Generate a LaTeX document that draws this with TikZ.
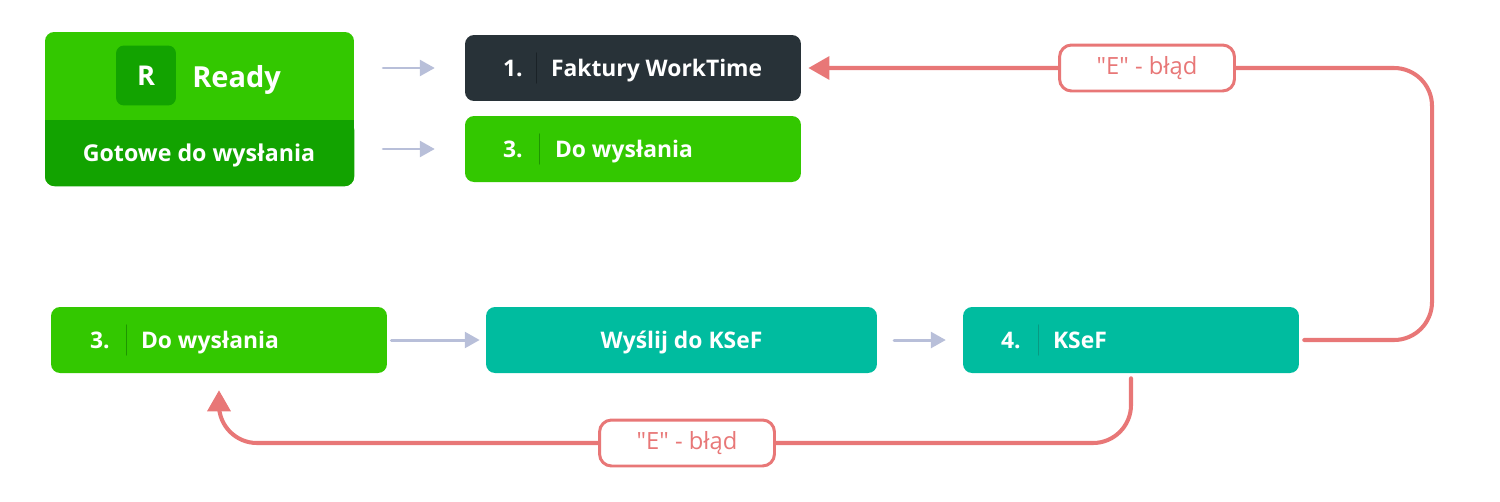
\documentclass[tikz,border=0pt]{standalone}
\usepackage{fontspec}
\newfontfamily\opensans{Open Sans}
\usetikzlibrary{arrows.meta}
\definecolor{lime}{HTML}{33C800}
\definecolor{darkgreen}{HTML}{12A300}
\definecolor{limesep}{HTML}{1E9600}
\definecolor{slate}{HTML}{283238}
\definecolor{slatesep}{HTML}{1A2227}
\definecolor{teal}{HTML}{00BC9F}
\definecolor{tealsep}{HTML}{089A82}
\definecolor{flowgray}{HTML}{B8BFD9}
\definecolor{errred}{HTML}{E87777}
\begin{document}
\begin{tikzpicture}[x=0.02cm, y=-0.02cm, line join=round, line cap=round,
		box/.style={rounded corners=0.18cm, minimum width=6.72cm, minimum height=1.32cm, inner sep=0},
		lbl/.style={text=white, font=\opensans\fontsize{13}{15}\selectfont\bfseries, inner sep=0, anchor=base west},
		sep/.style={line width=0.8pt},
		flow/.style={-{Triangle[length=8.5pt,width=9pt]}, line width=1.7pt, draw=flowgray},
		err/.style={-{Triangle[length=12pt,width=13pt]}, line width=2.3pt, draw=errred, rounded corners=0.76cm},
		errlabel/.style={draw=errred, line width=1.7pt, fill=white, rounded corners=0.24cm, minimum width=3.5cm, minimum height=0.92cm, text=errred, font=\opensans\fontsize{13.5}{15}\selectfont}
		]
		\useasboundingbox (0,0) rectangle (1500,501);
		% Ready block
		\node[box, fill=lime, minimum width=6.18cm, minimum height=3.08cm] (ready) at (199.5,109) {};
		\fill[darkgreen, rounded corners=0.2cm] (45,120) rectangle (ready.south east);
		\fill[darkgreen] (45,120) rectangle (354,140);
		\node[fill=darkgreen, rounded corners=0.16cm, minimum size=1.2cm, inner sep=0, text=white, font=\opensans\fontsize{15.5}{18}\selectfont\bfseries] (icon) at (146,75.5) {R};
		\node[text=white, inner sep=0, anchor=base west, font=\opensans\fontsize{16.5}{20}\selectfont\bfseries] (readytxt) at (192,87) {Ready};
		\node[text=white, inner sep=0, anchor=base, font=\opensans\fontsize{13.2}{15}\selectfont\bfseries] (gotowe) at (199,161.5) {Gotowe do wysłania};
		% top boxes
		\node[box, fill=slate] (fak) at (633,68) {};
		\node[lbl] (fak-n) at ([xshift=0.76cm,yshift=-0.17cm]fak.west) {1.};
		\draw[sep, slatesep] ([xshift=1.44cm,yshift=0.3cm]fak.west) -- ([xshift=1.44cm,yshift=-0.3cm]fak.west);
		\node[lbl] (fak-t) at ([xshift=1.72cm,yshift=-0.17cm]fak.west) {Faktury WorkTime};
		\node[box, fill=lime] (do) at (633,149) {};
		\node[lbl] (do-n) at ([xshift=0.76cm,yshift=-0.17cm]do.west) {3.};
		\draw[sep, limesep] ([xshift=1.5cm,yshift=0.3cm]do.west) -- ([xshift=1.5cm,yshift=-0.3cm]do.west);
		\node[lbl] (do-t) at ([xshift=1.8cm,yshift=-0.17cm]do.west) {Do wysłania};
		% bottom row
		\node[box, fill=lime] (do2) at (219,340) {};
		\node[lbl] (do2-n) at ([xshift=0.78cm,yshift=-0.17cm]do2.west) {3.};
		\draw[sep, limesep] ([xshift=1.52cm,yshift=0.3cm]do2.west) -- ([xshift=1.52cm,yshift=-0.3cm]do2.west);
		\node[lbl] (do2-t) at ([xshift=1.8cm,yshift=-0.17cm]do2.west) {Do wysłania};
		\node[box, fill=teal, minimum width=7.82cm] (send) at (681.5,340) {};
		\node[lbl, anchor=base] (send-t) at ([yshift=-0.17cm]send.center) {Wyślij do KSeF};
		\node[box, fill=teal] (ksef) at (1131,340) {};
		\node[lbl] (ksef-n) at ([xshift=0.76cm,yshift=-0.17cm]ksef.west) {4.};
		\draw[sep, tealsep] ([xshift=1.52cm,yshift=0.3cm]ksef.west) -- ([xshift=1.52cm,yshift=-0.3cm]ksef.west);
		\node[lbl] (ksef-t) at ([xshift=1.8cm,yshift=-0.17cm]ksef.west) {KSeF};
		% flow arrows
		\draw[flow, shorten <=16.4pt, shorten >=17pt] (ready.east |- fak.west) -- (fak.west);
		\draw[flow, shorten <=16.4pt, shorten >=17pt] (ready.east |- do.west) -- (do.west);
		\draw[flow, shorten <=2.3pt, shorten >=3.4pt] (do2.east) -- (send.west);
		\draw[flow, shorten <=9.6pt, shorten >=9.6pt] (send.east) -- (ksef.west);
		% error loops
		\coordinate (rt) at (1432,68);
		\coordinate (bot) at (687,443);
		\draw[err, shorten <=2.8pt, shorten >=4pt] (ksef.east) -| (rt) -- (fak.east);
		\draw[err, shorten <=2.8pt, shorten >=9.6pt] (ksef.south) |- (bot) -| (do2.south);
		\node[errlabel] (errtop) at (1147,68) {"E" - błąd};
		\node[errlabel] (errbot) at (687,443) {"E" - błąd};
\end{tikzpicture}
\end{document}
